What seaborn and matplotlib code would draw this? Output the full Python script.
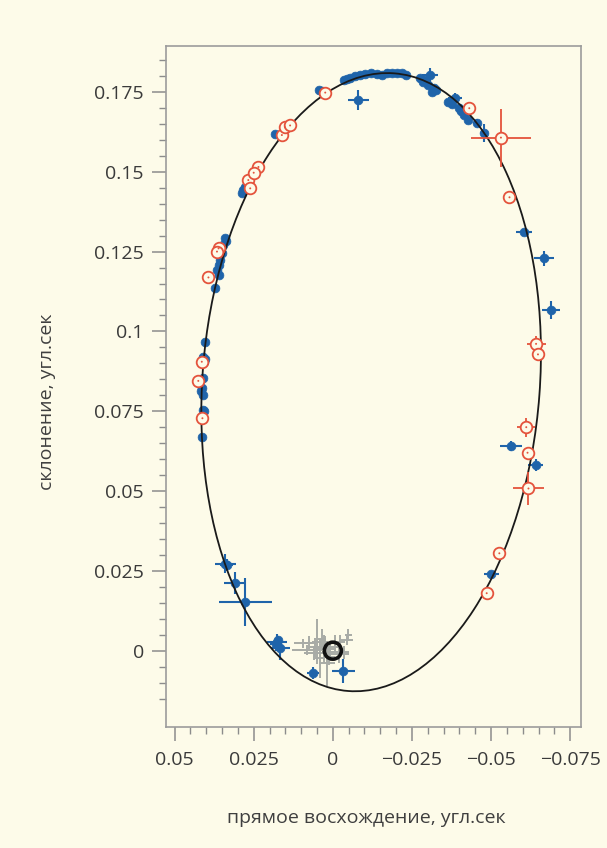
import numpy as np
import pandas as pd
import matplotlib
matplotlib.use('Agg')
import matplotlib.pyplot as plt
from matplotlib.patches import Ellipse
import seaborn as sns

# --- datos (угл.сек) ---
# puntos azules (NTT/VLT)
azul_x = [0.0045, 0.0035, 0.0030, -0.0034, -0.0055, -0.0070, -0.0086, -0.0102,
          -0.0081, -0.0155, -0.0171, -0.0186, -0.0202, -0.0218, -0.0232,
          -0.0276, -0.0292, -0.0307, -0.0302, -0.0318, -0.0313,
          -0.0365, -0.0386, -0.0397, -0.0413, -0.0428, -0.0455, -0.0478,
          -0.0604, -0.0667, -0.0689, -0.0562, -0.0641, -0.0500,
          0.0182, 0.0288, 0.0277, 0.0267, 0.0256,
          0.0340, 0.0346, 0.0351, 0.0358, 0.0361, 0.0366, 0.0361, 0.0372,
          0.0403, 0.0411, 0.0405, 0.0411, 0.0414, 0.0409, 0.0416, 0.0411, 0.0406, 0.0414,
          0.0340, 0.0335, 0.0309, 0.0277, 0.0177, 0.0180, 0.0172, 0.0166, 0.0063, -0.0033,
          -0.0045, -0.0120, -0.0140, -0.0285, -0.0325, -0.0378, -0.0405, 0.0338, 0.0283, 0.0406]
azul_y = [0.1755, 0.1752, 0.1748, 0.1786, 0.1793, 0.1800, 0.1803, 0.1806,
          0.1725, 0.1803, 0.1809, 0.1810, 0.1810, 0.1809, 0.1803,
          0.1793, 0.1788, 0.1803, 0.1772, 0.1762, 0.1751,
          0.1720, 0.1730, 0.1699, 0.1678, 0.1662, 0.1652, 0.1622,
          0.1312, 0.1229, 0.1067, 0.0642, 0.0581, 0.0240,
          0.1618, 0.1433, 0.1453, 0.1467, 0.1490,
          0.1292, 0.1271, 0.1245, 0.1224, 0.1208, 0.1192, 0.1177, 0.1135,
          0.0968, 0.0919, 0.0915, 0.0855, 0.0822, 0.0801, 0.0812, 0.0754, 0.0752, 0.0668,
          0.0273, 0.0268, 0.0211, 0.0153, 0.0028, 0.0020, 0.0035, 0.0007, -0.0071, -0.0063,
          0.1790, 0.1808, 0.1806, 0.1780, 0.1757, 0.1713, 0.1690, 0.1282, 0.1442, 0.0905]
azul_xerr = [0.0008] * 8 + [0.0032] + [0.0008] * 8 + [0.0024] + [0.0008] * 4 + [0.0021] + [0.0008] * 3 + \
            [0.0013, 0.0013, 0.0024, 0.0032, 0.0029, 0.0035, 0.0024, 0.0024] + [0.0008] * 23 + \
            [0.0033, 0.0020, 0.0034, 0.0084, 0.0032, 0.0020, 0.0010, 0.0030, 0.0019, 0.0037] + [0.0008] * 10
azul_yerr = [0.0008] * 8 + [0.0031] + [0.0008] * 8 + [0.0021] + [0.0008] * 4 + [0.0018] + [0.0008] * 3 + \
            [0.0013, 0.0029, 0.0010, 0.0023, 0.0029, 0.0016, 0.0019, 0.0010] + [0.0008] * 23 + \
            [0.0031, 0.0020, 0.0034, 0.0076, 0.0025, 0.0020, 0.0010, 0.0035, 0.0019, 0.0037] + [0.0008] * 10

# circulos rojos (Keck)
rojo_x = [0.0024, -0.0431, -0.0531, -0.0558, -0.0642, -0.0648, -0.0611, -0.0615, -0.0618,
          -0.0526, -0.0486, 0.0161, 0.0151, 0.0135, 0.0267, 0.0235, 0.0261, 0.0250,
          0.0361, 0.0366, 0.0393, 0.0414, 0.0425, 0.0412]
rojo_y = [0.1748, 0.1699, 0.1607, 0.1420, 0.0961, 0.0928, 0.0700, 0.0620, 0.0508,
          0.0305, 0.0180, 0.1615, 0.1639, 0.1645, 0.1474, 0.1515, 0.1448, 0.1497,
          0.1260, 0.1250, 0.1169, 0.0905, 0.0845, 0.0728]
rojo_xerr = [0, 0, 0.0095, 0, 0.0030, 0, 0.0029, 0, 0.0048, 0, 0, 0, 0, 0, 0, 0, 0, 0, 0, 0, 0, 0, 0, 0]
rojo_yerr = [0, 0, 0.0091, 0, 0.0024, 0, 0.0030, 0, 0.0052, 0, 0, 0, 0, 0, 0, 0, 0, 0, 0, 0, 0, 0, 0, 0]

# cruces grises cerca de Sgr A*
gris_x = [0.0093, 0.0074, 0.0051, 0.0035, 0.0024, 0.0009, -0.0007, -0.0023, -0.0044, -0.0049,
          0.0040, 0.0019, 0.0061, 0.0082, -0.0020, 0.0028, 0.0012, -0.0035, 0.0055]
gris_y = [0.0023, 0.0025, 0.0028, 0.0038, 0.0012, -0.0003, 0.0023, 0.0028, 0.0033, 0.0049,
          -0.0024, -0.0040, -0.0008, 0.0002, -0.0010, 0.0005, -0.0020, -0.0005, 0.0010]
gris_xerr = [0.0030, 0.0020, 0.0015, 0.0012, 0.0040, 0.0025, 0.0020, 0.0015, 0.0020, 0.0010,
             0.0015, 0.0025, 0.0030, 0.0048, 0.0030, 0.0035, 0.0020, 0.0015, 0.0025]
gris_yerr = [0.0015, 0.0020, 0.0070, 0.0030, 0.0035, 0.0030, 0.0025, 0.0020, 0.0015, 0.0020,
             0.0060, 0.0070, 0.0020, 0.0015, 0.0030, 0.0045, 0.0025, 0.0020, 0.0030]

# orbita (elipse)
orb_centro = (-0.0121, 0.0841)
orb_ancho = 0.1066
orb_alto = 0.1940
orb_angulo = 4.3

x_ticks = [0.05, 0.025, 0, -0.025, -0.05, -0.075]
x_labels = ['0.05', '0.025', '0', '\u22120.025', '\u22120.05', '\u22120.075']
y_ticks = [0, 0.025, 0.05, 0.075, 0.1, 0.125, 0.15, 0.175]
y_labels = ['0', '0.025', '0.05', '0.075', '0.1', '0.125', '0.15', '0.175']

azul = '#1f64aa'
rojo = '#e4533c'
gris = '#a8aba6'
fondo = '#fdfbe9'

sns.set_theme(style='ticks')
plt.rcParams['font.family'] = ['Open Sans', 'DejaVu Sans']

df_azul = pd.DataFrame({'x': azul_x, 'y': azul_y})
df_rojo = pd.DataFrame({'x': rojo_x, 'y': rojo_y})

fig = plt.figure(figsize=(6.07, 8.48), dpi=100, facecolor=fondo)
ax = fig.add_axes([0.2735, 0.1427, 0.6837, 0.8031])
ax.set_facecolor(fondo)

ax.errorbar(gris_x, gris_y, xerr=gris_xerr, yerr=gris_yerr, fmt='none',
            ecolor=gris, elinewidth=1.4, capsize=0, zorder=2)
ax.errorbar(azul_x, azul_y, xerr=azul_xerr, yerr=azul_yerr, fmt='none',
            ecolor=azul, elinewidth=1.5, capsize=0, zorder=3)
sns.scatterplot(data=df_azul, x='x', y='y', color=azul, s=40, edgecolor=azul,
                linewidth=0.5, ax=ax, zorder=3)

ax.add_patch(Ellipse(orb_centro, orb_ancho, orb_alto, angle=orb_angulo,
                     fill=False, edgecolor='#1a1a1a', lw=1.3, zorder=4))

ax.errorbar(rojo_x, rojo_y, xerr=rojo_xerr, yerr=rojo_yerr, fmt='none',
            ecolor=rojo, elinewidth=1.3, capsize=0, zorder=5)
sns.scatterplot(data=df_rojo, x='x', y='y', facecolor=fondo, edgecolor=rojo, s=70,
                linewidth=1.3, ax=ax, zorder=5)
sns.scatterplot(data=df_rojo, x='x', y='y', color=rojo, s=2, edgecolor='none', ax=ax, zorder=6)

sns.scatterplot(x=[0], y=[0], facecolor='none', edgecolor='#111111', s=150,
                linewidth=2.6, ax=ax, zorder=7)

ax.set_xlim(0.0527, -0.0784)
ax.set_ylim(-0.0239, 0.1894)
ax.set_xticks(x_ticks)
ax.set_xticklabels(x_labels)
ax.set_yticks(y_ticks)
ax.set_yticklabels(y_labels)
ax.set_xticks(np.arange(-0.075, 0.0501, 0.005), minor=True)
ax.set_yticks(np.arange(-0.015, 0.1851, 0.005), minor=True)

for s in ax.spines.values():
    s.set_color('#9c9c9c')
    s.set_linewidth(1.2)
ax.tick_params(which='major', direction='out', length=10, width=1.1, color='#8c8c8c',
               labelsize=14, labelcolor='#3a3a3a')
ax.tick_params(which='minor', direction='out', length=5, width=1.0, color='#8c8c8c')
ax.tick_params(axis='y', pad=6)
ax.tick_params(axis='x', pad=7)

ax.set_xlabel('прямое восхождение, угл.сек', fontsize=14, color='#3f3f3f', va='center')
ax.set_ylabel('склонение, угл.сек', fontsize=14, color='#3f3f3f', va='center')
ax.xaxis.set_label_coords(0.483, -0.134)
ax.yaxis.set_label_coords(-0.287, 0.477)
ax.grid(False)

plt.savefig('out.png', dpi=100, facecolor=fondo)
